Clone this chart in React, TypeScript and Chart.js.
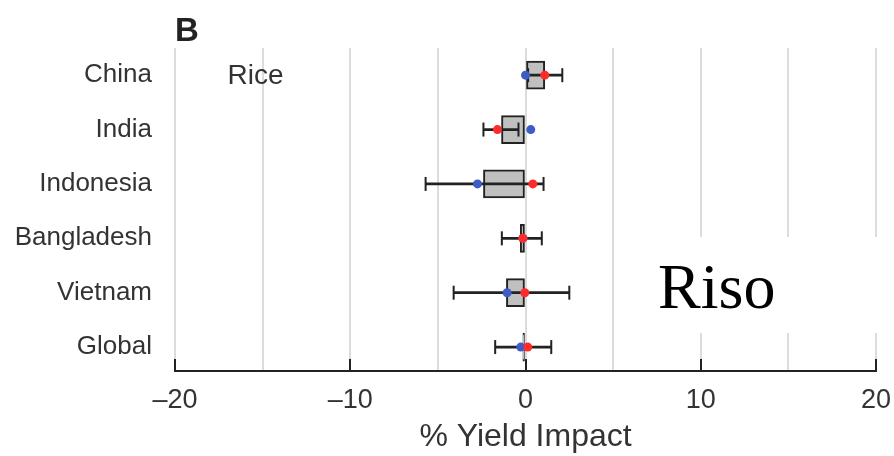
import React, { useEffect, useRef } from 'react';
import { Chart, registerables } from 'chart.js';

Chart.register(...registerables);

const COUNTRIES = ['China', 'India', 'Indonesia', 'Bangladesh', 'Vietnam', 'Global'];
const BOX_LOW = [0, -1.37, -2.4, -0.3, -1.09, -0.15];
const BOX_HIGH = [1.1, 0, 0, 0, 0, 0];
const WHISKER_LOW = [0.15, -2.4, -5.7, -1.35, -4.1, -1.73];
const WHISKER_HIGH = [2.1, -0.4, 1.03, 0.93, 2.5, 1.47];
const BLUE_POINTS = [0.0, 0.3, -2.74, -0.15, -1.05, -0.27];
const RED_POINTS = [1.1, -1.6, 0.42, -0.15, -0.04, 0.13];
const X_TICK_VALUES = [-20, -10, 0, 10, 20];
const X_TICK_LABELS = ['\u201320', '\u201310', '0', '10', '20'];
const PANEL_LETTER = 'B';
const CROP_LABEL = 'Rice';
const OVERLAY_LABEL = 'Riso';
const X_TITLE = '% Yield Impact';

const SANS = '"Liberation Sans", Arial, Helvetica, sans-serif';

export default function App() {
  const ref = useRef<HTMLCanvasElement>(null);

  useEffect(() => {
    document.body.style.margin = '0';
    const canvas = ref.current;
    if (!canvas) return;

    const decor = {
      id: 'decor',
      afterDatasetsDraw(chart: any) {
        const { ctx, chartArea } = chart;
        const xs = chart.scales.x;
        ctx.save();
        ctx.strokeStyle = '#222';
        ctx.lineWidth = 2;
        for (const v of X_TICK_VALUES) {
          const px = Math.round(xs.getPixelForValue(v));
          ctx.beginPath();
          ctx.moveTo(px, chartArea.bottom);
          ctx.lineTo(px, chartArea.bottom - 12);
          ctx.stroke();
        }
        ctx.restore();
      },
      afterDraw(chart: any) {
        const { ctx, chartArea } = chart;
        const xs = chart.scales.x;
        const ys = chart.scales.y;
        ctx.save();
        ctx.fillStyle = '#222';
        ctx.textBaseline = 'alphabetic';
        ctx.textAlign = 'left';
        ctx.font = `bold 33px ${SANS}`;
        ctx.fillText(PANEL_LETTER, chartArea.left, chartArea.top - 7);
        ctx.fillStyle = '#333';
        ctx.font = `28px ${SANS}`;
        ctx.textBaseline = 'middle';
        ctx.fillText(CROP_LABEL, xs.getPixelForValue(-17), ys.getPixelForValue(0) + 1);
        ctx.restore();
      },
    };

    const idx = COUNTRIES.map((_, i) => i);

    const chart = new Chart(canvas, {
      type: 'bar',
      data: {
        datasets: [
          {
            type: 'bar',
            label: 'box',
            data: idx.map((i) => ({ x: [BOX_LOW[i], BOX_HIGH[i]], y: i })),
            backgroundColor: '#c0c0c0',
            borderColor: '#222',
            borderWidth: 2,
            borderSkipped: false,
            barThickness: 28,
            grouped: false,
            order: 5,
          } as any,
          {
            type: 'bar',
            label: 'whisker',
            data: idx.map((i) => ({ x: [WHISKER_LOW[i], WHISKER_HIGH[i]], y: i })),
            backgroundColor: '#222',
            borderWidth: 0,
            barThickness: 2,
            grouped: false,
            order: 4,
          } as any,
          {
            type: 'scatter',
            label: 'caps',
            data: [
              ...idx.map((i) => ({ x: WHISKER_LOW[i], y: i })),
              ...idx.map((i) => ({ x: WHISKER_HIGH[i], y: i })),
            ],
            pointStyle: 'line',
            rotation: 90,
            radius: 7,
            borderColor: '#222',
            borderWidth: 2,
            order: 3,
          } as any,
          {
            type: 'scatter',
            label: 'blue',
            data: idx.map((i) => ({ x: BLUE_POINTS[i], y: i })),
            backgroundColor: '#3d5cc4',
            borderWidth: 0,
            radius: 4.5,
            order: 2,
          } as any,
          {
            type: 'scatter',
            label: 'red',
            data: idx.map((i) => ({ x: RED_POINTS[i], y: i })),
            backgroundColor: '#ff2a2a',
            borderWidth: 0,
            radius: 4.5,
            order: 1,
          } as any,
        ],
      },
      options: {
        indexAxis: 'y',
        responsive: false,
        animation: false,
        devicePixelRatio: 1,
        layout: { padding: { left: 0, top: 48, right: 18, bottom: 0 } },
        plugins: {
          legend: { display: false },
          tooltip: { enabled: false },
        },
        scales: {
          x: {
            type: 'linear',
            min: -20,
            max: 20,
            ticks: {
              stepSize: 5,
              autoSkip: false,
              maxRotation: 0,
              padding: 13,
              color: '#333',
              font: { family: SANS, size: 27 },
              callback: (v: any) => {
                const i = X_TICK_VALUES.indexOf(Number(v));
                return i >= 0 ? X_TICK_LABELS[i] : '';
              },
            },
            grid: { color: '#dcdcdc', lineWidth: 2, drawTicks: false },
            border: { display: true, color: '#222', width: 2 },
            title: {
              display: true,
              text: X_TITLE,
              color: '#333',
              font: { family: SANS, size: 32 },
              padding: 0,
            },
            afterFit: (s: any) => {
              s.height = 85;
              s.paddingLeft = 0;
              s.paddingRight = 0;
            },
          },
          y: {
            type: 'linear',
            reverse: true,
            offset: false,
            min: -0.5,
            max: 5.44,
            afterBuildTicks: (s: any) => {
              s.ticks = idx.map((i) => ({ value: i }));
            },
            grid: { display: false, drawTicks: false },
            border: { display: false },
            ticks: {
              autoSkip: false,
              color: '#333',
              font: { family: SANS, size: 26 },
              padding: 23,
              callback: (v: any) => COUNTRIES[Number(v)] ?? '',
            },
            afterFit: (s: any) => {
              s.width = 175;
              s.paddingTop = 0;
              s.paddingBottom = 0;
            },
          },
        },
      } as any,
      plugins: [decor],
    });

    return () => chart.destroy();
  }, []);

  return (
    <div style={{ position: 'relative', width: 894, height: 456 }}>
      <canvas ref={ref} width={894} height={456} />
      <div
        style={{
          position: 'absolute',
          left: 640,
          top: 237,
          width: 254,
          height: 96,
          boxSizing: 'border-box',
          background: '#fff',
          paddingLeft: 18,
          paddingTop: 18,
          fontFamily: '"Liberation Serif", "Times New Roman", serif',
          fontSize: 64,
          lineHeight: 1,
          color: '#000',
        }}
      >
        {OVERLAY_LABEL}
      </div>
    </div>
  );
}
